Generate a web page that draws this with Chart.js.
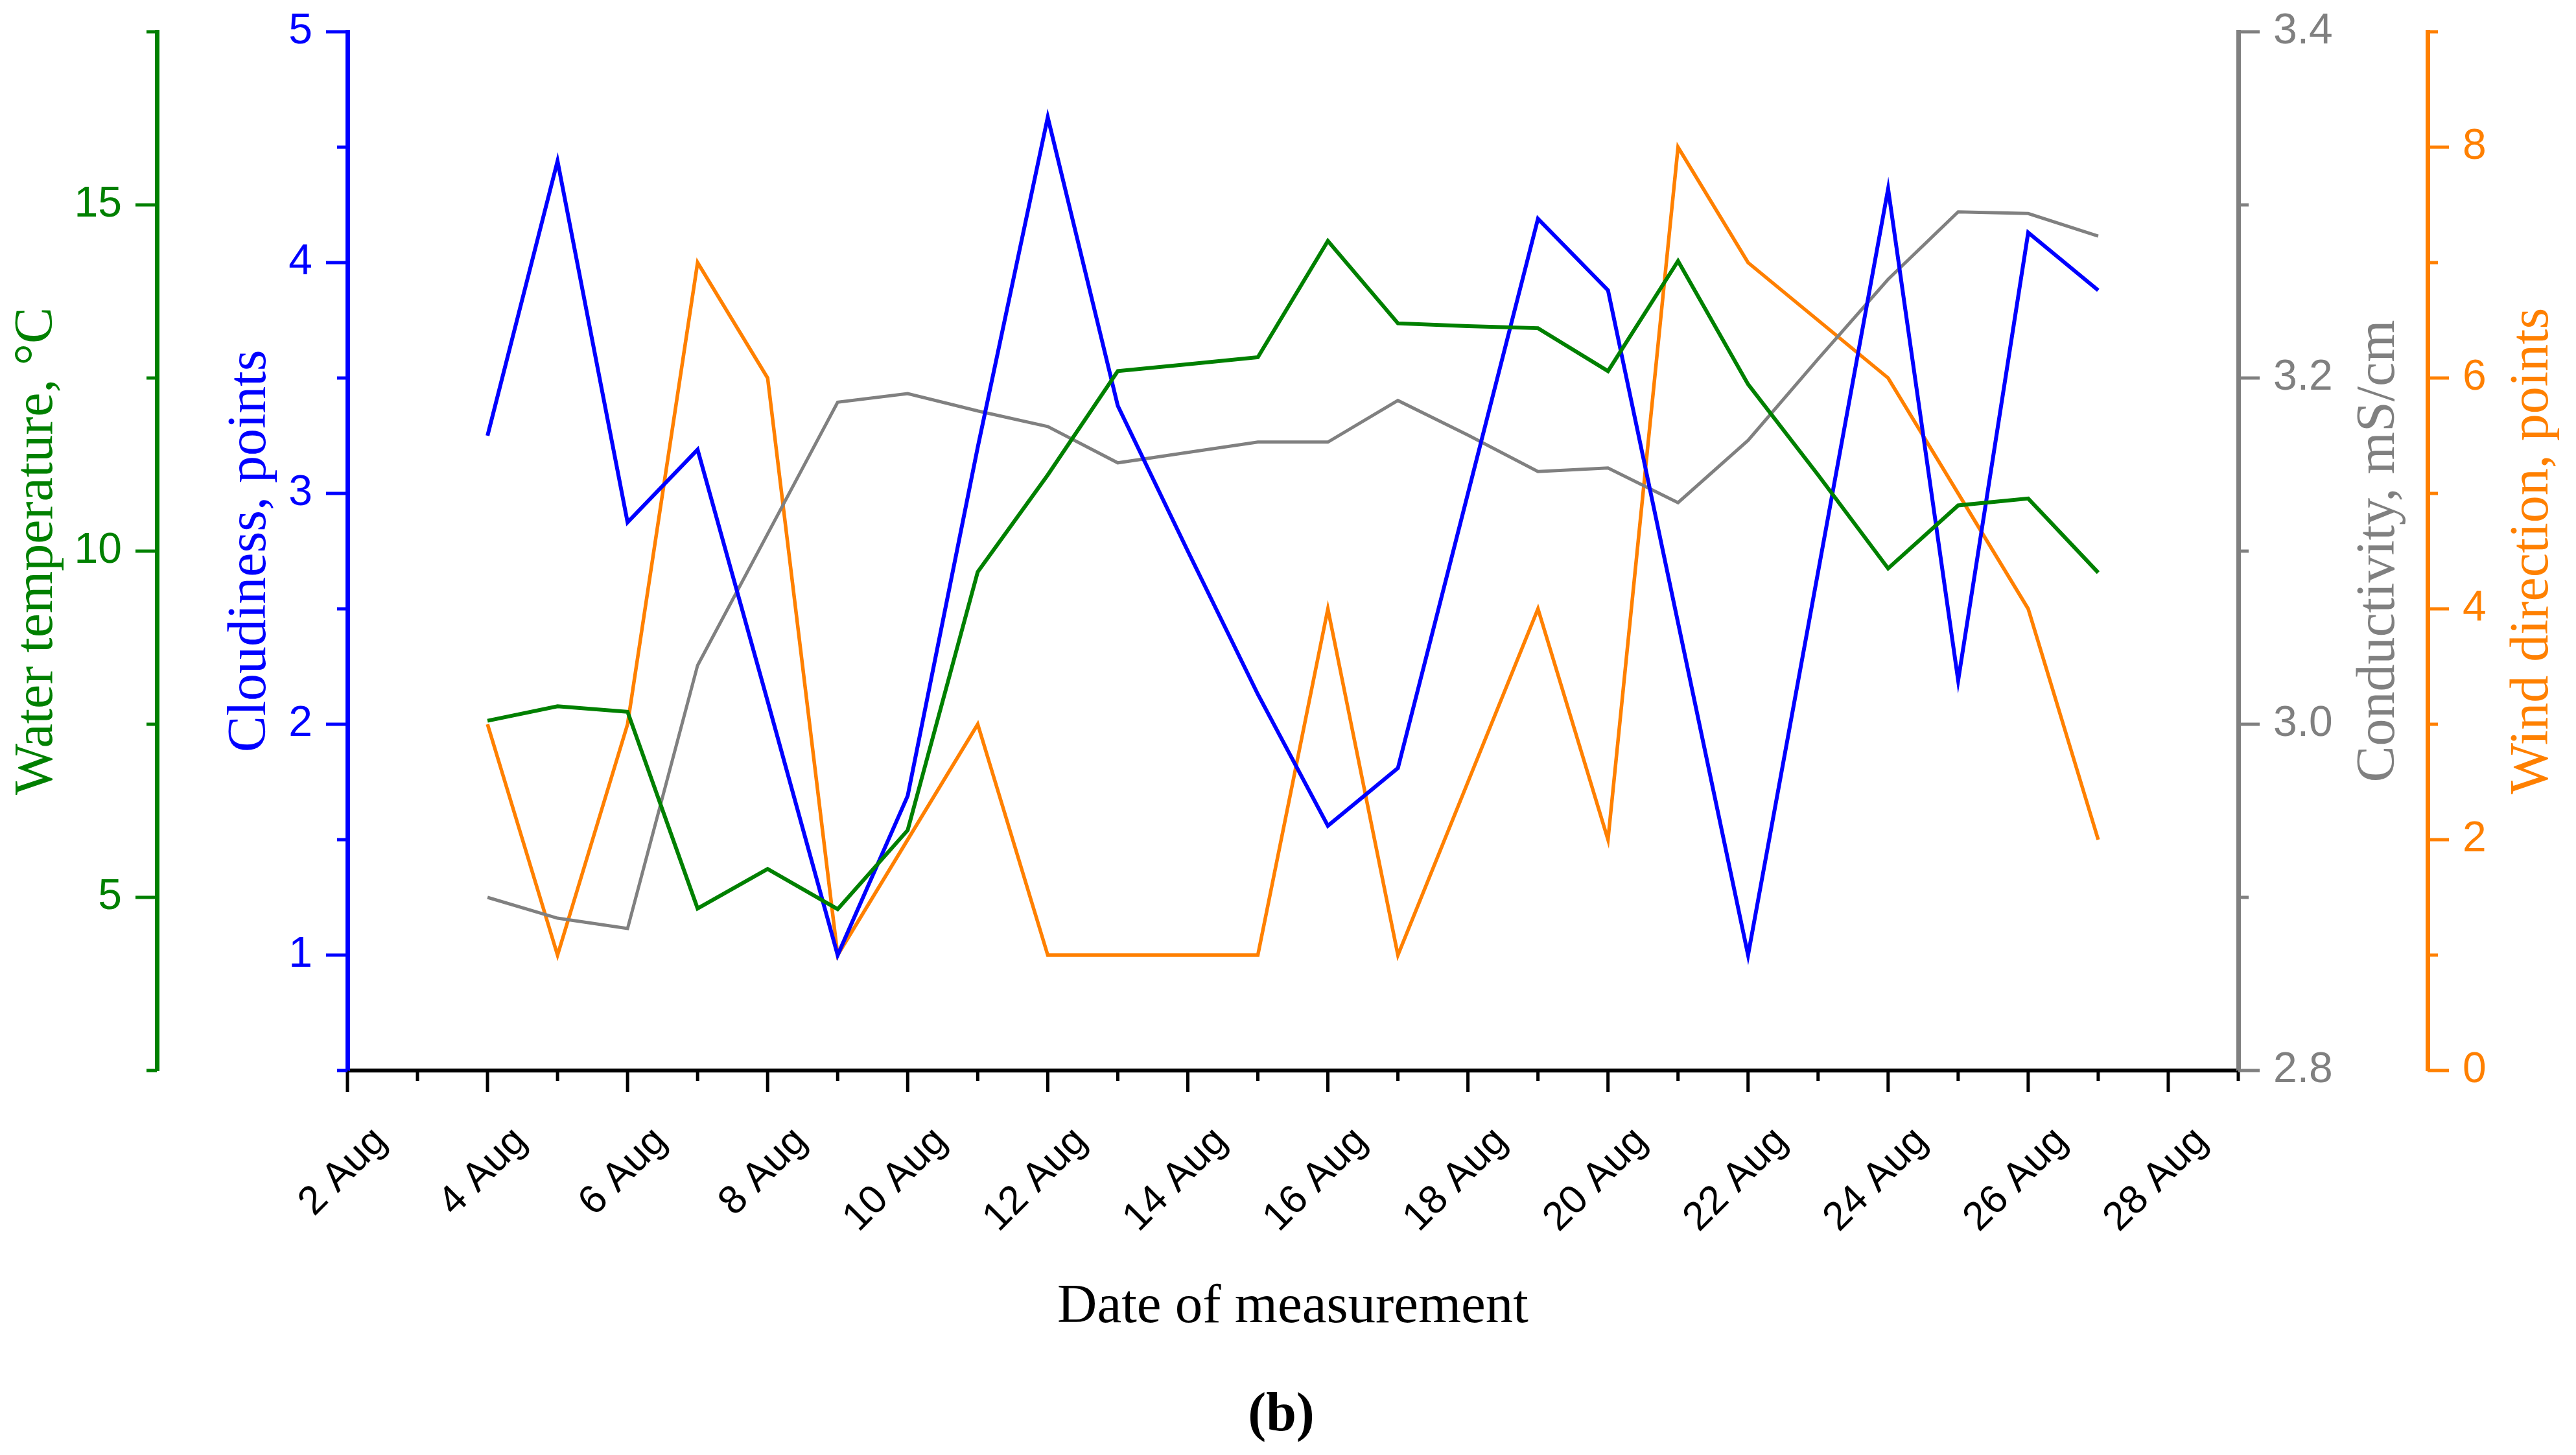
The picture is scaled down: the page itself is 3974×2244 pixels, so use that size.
<!DOCTYPE html>
<html lang="en">
<head>
<meta charset="UTF-8" />
<title>Water parameters, August</title>
<style>
  body {
    margin: 0;
    background: #ffffff;
  }
  #wrap {
    width: 3974px;
    height: 2244px;
  }
</style>
</head>
<body>
  <div id="wrap">
    <canvas id="chart" width="3974" height="2244"></canvas>
  </div>

  <script src="https://cdn.jsdelivr.net/npm/chart.js"></script>
  <script>
    // Day of August for each measurement
    const days = [4, 5, 6, 7, 8, 9, 10, 11, 12, 13, 14, 15, 16, 17, 18, 19, 20, 21, 22, 23, 24, 25, 26, 27];

    // Water temperature, °C
    const waterTemp = [7.55, 7.76, 7.68, 4.84, 5.41, 4.83, 5.97, 9.7, 11.1, 12.6, 12.7, 12.8,
                       14.48, 13.29, 13.25, 13.22, 12.6, 14.19, 12.41, 11.1, 9.75, 10.66, 10.76, 9.69];

    // Cloudiness, points
    const cloudiness = [3.25, 4.44, 2.875, 3.19, 2.1, 1.0, 1.69, 3.2, 4.63, 3.38, 2.75, 2.13,
                        1.56, 1.81, 3.0, 4.19, 3.88, 2.44, 1.0, 2.66, 4.32, 2.19, 4.13, 3.88];

    // Conductivity, mS/cm
    const conductivity = [2.9, 2.888, 2.882, 3.034, 3.11, 3.186, 3.191, 3.181, 3.172, 3.151, 3.157, 3.163,
                          3.163, 3.187, 3.167, 3.146, 3.148, 3.128, 3.164, 3.211, 3.257, 3.296, 3.295, 3.282];

    // Wind direction, points
    const windDirection = [3, 1, 3, 7, 6, 1, 2, 3, 1, 1, 1, 1,
                           4, 1, 2.5, 4, 2, 8, 7, 6.5, 6, 5, 4, 2];

    const GREEN = '#008000';
    const BLUE = '#0000ff';
    const GRAY = '#808080';
    const ORANGE = '#ff8000';

    const sansFont = 'Liberation Sans, Arial, sans-serif';
    const serifFont = 'Liberation Serif, Times New Roman, serif';

    // axis titles, drawn by hand so the right ones read bottom-to-top too
    const axisTitles = [
      { axis: 'yTemp', text: 'Water temperature, \u00B0C', color: GREEN, dx: 80 },
      { axis: 'yCloud', text: 'Cloudiness, points', color: BLUE, dx: 167 },
      { axis: 'yCond', text: 'Conductivity, mS/cm', color: GRAY, dx: 240 },
      { axis: 'yWind', text: 'Wind direction, points', color: ORANGE, dx: 185 }
    ];

    function toPoints(values) {
      return days.map((d, i) => ({ x: d, y: values[i] }));
    }

    function isMajor(v, major) {
      const r = v / major;
      return Math.abs(r - Math.round(r)) < 1e-6;
    }

    function yAxis(position, weight, color, min, max, step, major, width, fmt) {
      return {
        type: 'linear',
        position: position,
        weight: weight,
        min: min,
        max: max,
        grid: { display: false, drawTicks: false, tickLength: 0 },
        border: { display: true, color: color, width: 7 },
        ticks: {
          stepSize: step,
          autoSkip: false,
          padding: 54,
          color: color,
          font: { family: sansFont, size: 66 },
          callback: v => isMajor(v, major) ? fmt(v) : ''
        },
        afterFit: scale => {
          scale.width = width;
          // keep the layout from pushing the plot down for label overhang
          scale.paddingTop = 0;
          scale.paddingBottom = 0;
        }
      };
    }

    // major / minor tick marks, pointing outwards
    const tickMarks = {
      id: 'tickMarks',
      afterDraw(chart) {
        const ctx = chart.ctx;
        Object.values(chart.scales).forEach(scale => {
          ctx.save();
          ctx.strokeStyle = scale.options.border.color;
          ctx.lineWidth = 5;
          scale.ticks.forEach(t => {
            const len = t.label !== '' ? 33 : 16;
            const p = scale.getPixelForValue(t.value);
            ctx.beginPath();
            if (scale.position === 'bottom') {
              ctx.moveTo(p, scale.top);
              ctx.lineTo(p, scale.top + len);
            } else if (scale.position === 'left') {
              ctx.moveTo(scale.right, p);
              ctx.lineTo(scale.right - len, p);
            } else {
              ctx.moveTo(scale.left, p);
              ctx.lineTo(scale.left + len, p);
            }
            ctx.stroke();
          });
          ctx.restore();
        });
      }
    };

    const extraText = {
      id: 'extraText',
      afterDraw(chart) {
        const ctx = chart.ctx;
        const area = chart.chartArea;
        const midY = (area.top + area.bottom) / 2;
        ctx.save();
        ctx.font = '84px ' + serifFont;
        ctx.textAlign = 'center';
        ctx.textBaseline = 'alphabetic';
        axisTitles.forEach(t => {
          const scale = chart.scales[t.axis];
          ctx.save();
          ctx.fillStyle = t.color;
          ctx.translate(scale.left + t.dx, midY);
          ctx.rotate(-Math.PI / 2);
          ctx.fillText(t.text, 0, 0);
          ctx.restore();
        });
        // panel letter
        ctx.fillStyle = '#000000';
        ctx.font = 'bold 84px ' + serifFont;
        ctx.textBaseline = 'middle';
        ctx.fillText('(b)', (area.left + area.right) / 2 - 18, 2184);
        ctx.restore();
      }
    };

    const ctx = document.getElementById('chart').getContext('2d');

    new Chart(ctx, {
      type: 'line',
      data: {
        datasets: [
          { label: 'Water temperature', data: toPoints(waterTemp), yAxisID: 'yTemp', borderColor: GREEN, borderWidth: 6 },
          { label: 'Cloudiness', data: toPoints(cloudiness), yAxisID: 'yCloud', borderColor: BLUE, borderWidth: 6 },
          { label: 'Conductivity', data: toPoints(conductivity), yAxisID: 'yCond', borderColor: GRAY, borderWidth: 5 },
          { label: 'Wind direction', data: toPoints(windDirection), yAxisID: 'yWind', borderColor: ORANGE, borderWidth: 5.5 }
        ]
      },
      options: {
        responsive: false,
        animation: false,
        devicePixelRatio: 1,
        layout: { padding: { top: 49, left: 0, right: 0, bottom: 0 } },
        elements: {
          point: { radius: 0, hoverRadius: 0 },
          line: { tension: 0, fill: false }
        },
        plugins: {
          legend: { display: false },
          tooltip: { enabled: false }
        },
        scales: {
          x: {
            type: 'linear',
            position: 'bottom',
            min: 2,
            max: 29,
            grid: { display: false, drawTicks: false, tickLength: 0 },
            border: { display: true, color: '#000000', width: 6 },
            ticks: {
              stepSize: 1,
              autoSkip: false,
              minRotation: 45,
              maxRotation: 45,
              padding: 73,
              labelOffset: 51,
              color: '#000000',
              font: { family: sansFont, size: 62 },
              callback: v => v % 2 === 0 ? v + ' Aug' : ''
            },
            title: {
              display: true,
              text: 'Date of measurement',
              color: '#000000',
              font: { family: serifFont, size: 85 },
              padding: { top: 0, bottom: 176 }
            },
            afterFit: scale => {
              scale.height = 593;
              scale.paddingLeft = 0;
              scale.paddingRight = 0;
            }
          },
          yCloud: yAxis('left', 0, BLUE, 0.5, 5, 0.5, 1, 294, v => String(Math.round(v))),
          yTemp: yAxis('left', 1, GREEN, 2.5, 17.5, 2.5, 5, 242, v => String(Math.round(v))),
          yCond: yAxis('right', 0, GRAY, 2.8, 3.4, 0.1, 0.2, 292, v => v.toFixed(1)),
          yWind: yAxis('right', 1, ORANGE, 0, 9, 1, 2, 229, v => String(Math.round(v)))
        }
      },
      plugins: [tickMarks, extraText]
    });
  </script>
</body>
</html>
